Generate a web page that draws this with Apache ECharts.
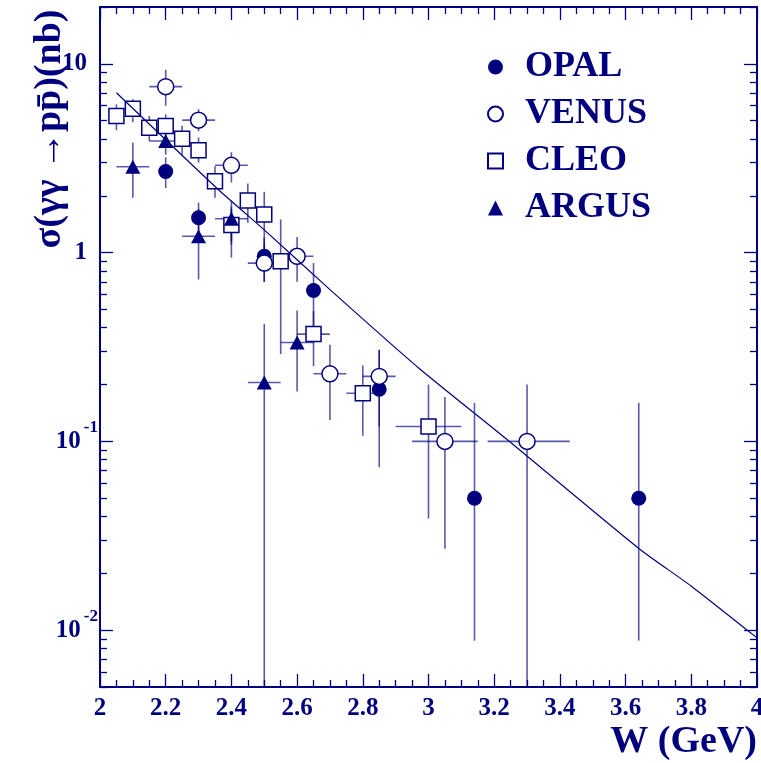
<!DOCTYPE html>
<html>
<head>
<meta charset="utf-8">
<script src="https://cdn.jsdelivr.net/npm/echarts@6.0.0/dist/echarts.min.js"></script>
<style>
  html, body { margin: 0; padding: 0; background: #fff; overflow: hidden; }
  #chart { width: 761px; height: 763px; }
</style>
</head>
<body>
<div id="chart"></div>
<script>
// W (GeV) and sigma (nb), with error bar limits
const opalW = [2.2, 2.3, 2.4, 2.5, 2.65, 2.85, 3.14, 3.64];
const opalSigma = [2.69, 1.53, 1.41, 0.956, 0.63, 0.189, 0.05, 0.05];
const opalLow = [2.2, 1.2, 1.1, 0.7, 0.4, 0.073, 0.0088, 0.0088];
const opalHigh = [3.2, 1.84, 1.75, 1.2, 0.88, 0.305, 0.16, 0.16];

const venusW = [2.2, 2.3, 2.4, 2.5, 2.6, 2.7, 2.85, 3.05, 3.3];
const venusSigma = [7.57, 5.03, 2.9, 0.88, 0.956, 0.228, 0.221, 0.1, 0.1];
const venusLow = [6.0, 4.4, 2.35, 0.7, 0.7, 0.13, 0.12, 0.027, 0.005];
const venusHigh = [9.3, 5.75, 3.4, 1.1, 1.21, 0.325, 0.306, 0.172, 0.2];
const venusWLow = [2.15, 2.25, 2.35, 2.45, 2.55, 2.65, 2.8, 2.95, 3.18];
const venusWHigh = [2.25, 2.35, 2.45, 2.55, 2.65, 2.75, 2.9, 3.15, 3.43];

const cleoW = [2.05, 2.1, 2.15, 2.2, 2.25, 2.3, 2.35, 2.4, 2.45, 2.5, 2.55, 2.65, 2.8, 3.0];
const cleoSigma = [5.29, 5.78, 4.59, 4.68, 4.01, 3.49, 2.39, 1.40, 1.89, 1.59, 0.90, 0.37, 0.18, 0.12];
const cleoLow = [4.45, 4.9, 3.9, 4.0, 3.3, 3.0, 1.95, 1.15, 1.44, 1.06, 0.29, 0.25, 0.107, 0.039];
const cleoHigh = [6.1, 6.5, 5.3, 5.4, 4.7, 4.07, 2.87, 1.7, 2.32, 2.1, 1.5, 0.49, 0.252, 0.2];
const cleoWLow = [2.03, 2.08, 2.13, 2.18, 2.23, 2.28, 2.33, 2.38, 2.43, 2.48, 2.53, 2.6, 2.75, 2.9];
const cleoWHigh = [2.07, 2.12, 2.17, 2.22, 2.27, 2.32, 2.37, 2.42, 2.47, 2.52, 2.57, 2.7, 2.85, 3.1];

const argusW = [2.1, 2.2, 2.3, 2.4, 2.5, 2.6];
const argusSigma = [2.85, 3.9, 1.22, 1.51, 0.205, 0.334];
const argusLow = [1.95, 3.3, 0.72, 0.94, 0.005, 0.184];
const argusHigh = [3.82, 4.6, 1.7, 1.87, 0.419, 0.494];
const argusWLow = [2.05, 2.15, 2.25, 2.35, 2.45, 2.55];
const argusWHigh = [2.15, 2.25, 2.35, 2.45, 2.55, 2.65];

// fitted curve, points
const fitW = [2.05, 2.36, 2.5, 2.7, 2.97, 3.24, 3.64, 3.8, 4.0];
const fitSigma = [7.03, 2.16, 1.32, 0.637, 0.245, 0.102, 0.0271, 0.0171, 0.0091];

const yMajor = [0.01, 0.1, 1, 10];
const yMinor = [0.005, 0.006, 0.007, 0.008, 0.009, 0.02, 0.03, 0.04, 0.05, 0.06, 0.07, 0.08, 0.09,
  0.2, 0.3, 0.4, 0.5, 0.6, 0.7, 0.8, 0.9, 2, 3, 4, 5, 6, 7, 8, 9, 20];

const navy = '#00007f';
const font = "'Liberation Serif', 'Times New Roman', serif";

function rows(w, s, lo, hi, wlo, whi) {
  return w.map((x, i) => [x, s[i], lo[i], hi[i], wlo ? wlo[i] : null, whi ? whi[i] : null]);
}

function errorSeries(name, data) {
  return {
    name: name, type: 'custom', z: 2, silent: true,
    encode: { x: 0, y: 1 },
    data: data,
    renderItem: function (params, api) {
      const x = api.value(0), y = api.value(1);
      const a = api.coord([x, api.value(2)]), b = api.coord([x, api.value(3)]);
      const style = { stroke: navy, lineWidth: 1.6, opacity: 0.65 };
      const children = [{ type: 'line', shape: { x1: a[0], y1: a[1], x2: b[0], y2: b[1] }, style: style }];
      const wl = api.value(4), wh = api.value(5);
      if (wl !== null && !isNaN(wl)) {
        const c = api.coord([wl, y]), d = api.coord([wh, y]);
        children.push({ type: 'line', shape: { x1: c[0], y1: c[1], x2: d[0], y2: d[1] }, style: style });
      }
      return { type: 'group', children: children };
    }
  };
}

function yAxisDef(pos, values, len, withLine, withLabel) {
  return {
    type: 'log', min: 0.005, max: 20, position: pos,
    axisLine: { show: withLine, onZero: false, lineStyle: { color: navy, width: 2 } },
    axisTick: { show: true, inside: true, length: len, customValues: values, lineStyle: { color: navy, width: 1.3 } },
    axisLabel: withLabel ? {
      customValues: yMajor, margin: 2,
      formatter: function (v) {
        const e = Math.round(Math.log10(v));
        if (e === 1) return '{n|10}';
        if (e === 0) return '{n|1}';
        return '{b|10}{s|' + e + '}';
      },
      rich: {
        n: { fontFamily: font, fontWeight: 'bold', fontSize: 25, color: navy, padding: [0, 11, 0, 0], lineHeight: 44 },
        b: { fontFamily: font, fontWeight: 'bold', fontSize: 25, color: navy, lineHeight: 44, padding: [0, 3, 0, 0] },
        s: { fontFamily: font, fontWeight: 'bold', fontSize: 17, color: navy, lineHeight: 44, verticalAlign: 'top' }
      }
    } : { show: false },
    splitLine: { show: false }
  };
}

function xAxisDef(pos, withLabel) {
  return {
    type: 'value', min: 2, max: 4, interval: 0.2, position: pos,
    axisLine: { show: true, onZero: false, lineStyle: { color: navy, width: 2 } },
    axisTick: { show: true, inside: true, length: 13, lineStyle: { color: navy, width: 1.3 } },
    minorTick: { show: true, splitNumber: 4, length: 7, lineStyle: { color: navy, width: 1.3 } },
    axisLabel: withLabel ? { margin: 9, fontFamily: font, fontWeight: 'bold', fontSize: 25, color: navy } : { show: false },
    splitLine: { show: false },
    minorSplitLine: { show: false }
  };
}

const chart = echarts.init(document.getElementById('chart'), null, { renderer: 'canvas' });
const option = {
  backgroundColor: '#fff',
  animation: false,
  grid: { left: 100, top: 7, width: 657, height: 680, containLabel: false, outerBoundsMode: 'none' },
  legend: {
    data: ['OPAL', 'VENUS', 'CLEO', 'ARGUS'],
    orient: 'vertical', left: 482, top: 44,
    itemWidth: 15, itemHeight: 15, itemGap: 11,
    selectedMode: false,
    textStyle: { fontFamily: font, fontWeight: 'bold', fontSize: 36, color: navy, lineHeight: 34, padding: [0, 0, 0, 17] }
  },
  xAxis: [xAxisDef('bottom', true), xAxisDef('top', false)],
  yAxis: [
    yAxisDef('left', yMajor, 13, true, true),
    yAxisDef('left', yMinor, 7, false, false),
    yAxisDef('right', yMajor, 13, true, false),
    yAxisDef('right', yMinor, 7, false, false)
  ],
  graphic: [
    {
      type: 'text', x: 50, y: 129, rotation: Math.PI / 2,
      style: { text: 'σ(γγ →pp̄)(nb)', fontFamily: font, fontWeight: 'bold', fontSize: 38, fill: navy, align: 'center', verticalAlign: 'middle' }
    },
    {
      type: 'text', x: 757, y: 742,
      style: { text: 'W (GeV)', fontFamily: font, fontWeight: 'bold', fontSize: 38, fill: navy, align: 'right', verticalAlign: 'middle' }
    }
  ],
  series: [
    errorSeries('OPAL err', rows(opalW, opalSigma, opalLow, opalHigh)),
    errorSeries('VENUS err', rows(venusW, venusSigma, venusLow, venusHigh, venusWLow, venusWHigh)),
    errorSeries('CLEO err', rows(cleoW, cleoSigma, cleoLow, cleoHigh, cleoWLow, cleoWHigh)),
    errorSeries('ARGUS err', rows(argusW, argusSigma, argusLow, argusHigh, argusWLow, argusWHigh)),
    {
      name: 'OPAL', type: 'scatter', symbol: 'circle', symbolSize: 15, z: 3,
      itemStyle: { color: navy, opacity: 1 },
      data: opalW.map((w, i) => [w, opalSigma[i]])
    },
    {
      name: 'VENUS', type: 'scatter', symbol: 'circle', symbolSize: 16, z: 3,
      itemStyle: { color: '#fff', borderColor: navy, borderWidth: 1.5, opacity: 1 },
      data: venusW.map((w, i) => [w, venusSigma[i]])
    },
    {
      name: 'CLEO', type: 'scatter', symbol: 'rect', symbolSize: 15, z: 3,
      itemStyle: { color: '#fff', borderColor: navy, borderWidth: 1.5, opacity: 1 },
      data: cleoW.map((w, i) => [w, cleoSigma[i]])
    },
    {
      name: 'ARGUS', type: 'scatter', symbol: 'triangle', symbolSize: [15, 14], z: 3,
      itemStyle: { color: navy, opacity: 1 },
      data: argusW.map((w, i) => [w, argusSigma[i]])
    },
    {
      name: 'fit', type: 'line', z: 4, showSymbol: false, smooth: 0.2, silent: true,
      lineStyle: { color: navy, width: 1.2 },
      data: fitW.map((w, i) => [w, fitSigma[i]])
    }
  ]
};
chart.setOption(option);
window.addEventListener('resize', function () { chart.resize(); });
</script>
</body>
</html>
